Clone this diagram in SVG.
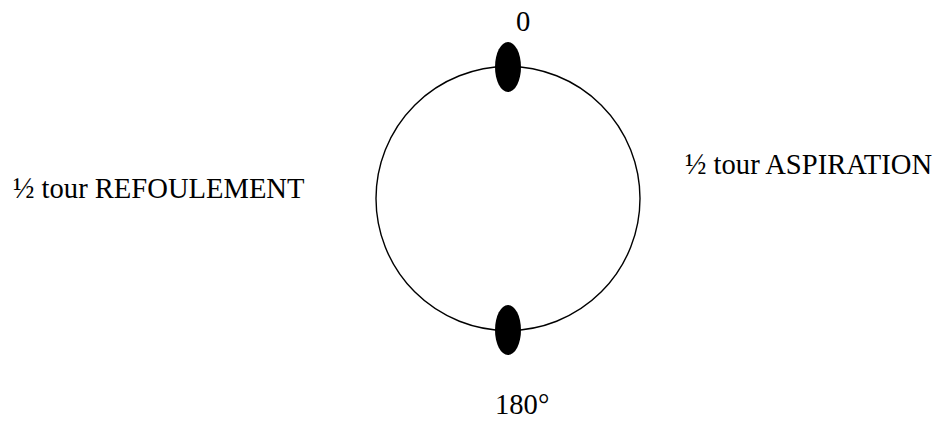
<svg xmlns="http://www.w3.org/2000/svg" width="946" height="421" viewBox="0 0 946 421">
<style>
text { font-family: "Liberation Serif", "Times New Roman", serif; font-size: 28.6px; fill: #000; }
.dot { fill: #000; }
</style>
<rect width="946" height="421" fill="#fff"/>
<g id="cycle">
<circle cx="508" cy="198.5" r="132" fill="none" stroke="#000" stroke-width="1.4"/>
</g>
<g id="top-point">
<ellipse class="dot" cx="508" cy="67" rx="13" ry="25"/>
</g>
<g id="bottom-point">
<ellipse class="dot" cx="508" cy="330" rx="13" ry="25"/>
</g>
<g id="labels">
<text x="516" y="31">0</text>
<text x="495" y="414">180°</text>
<text x="13" y="198">½ tour REFOULEMENT</text>
<text x="685" y="174">½ tour ASPIRATION</text>
</g>
<g id="connectors"></g>
</svg>
